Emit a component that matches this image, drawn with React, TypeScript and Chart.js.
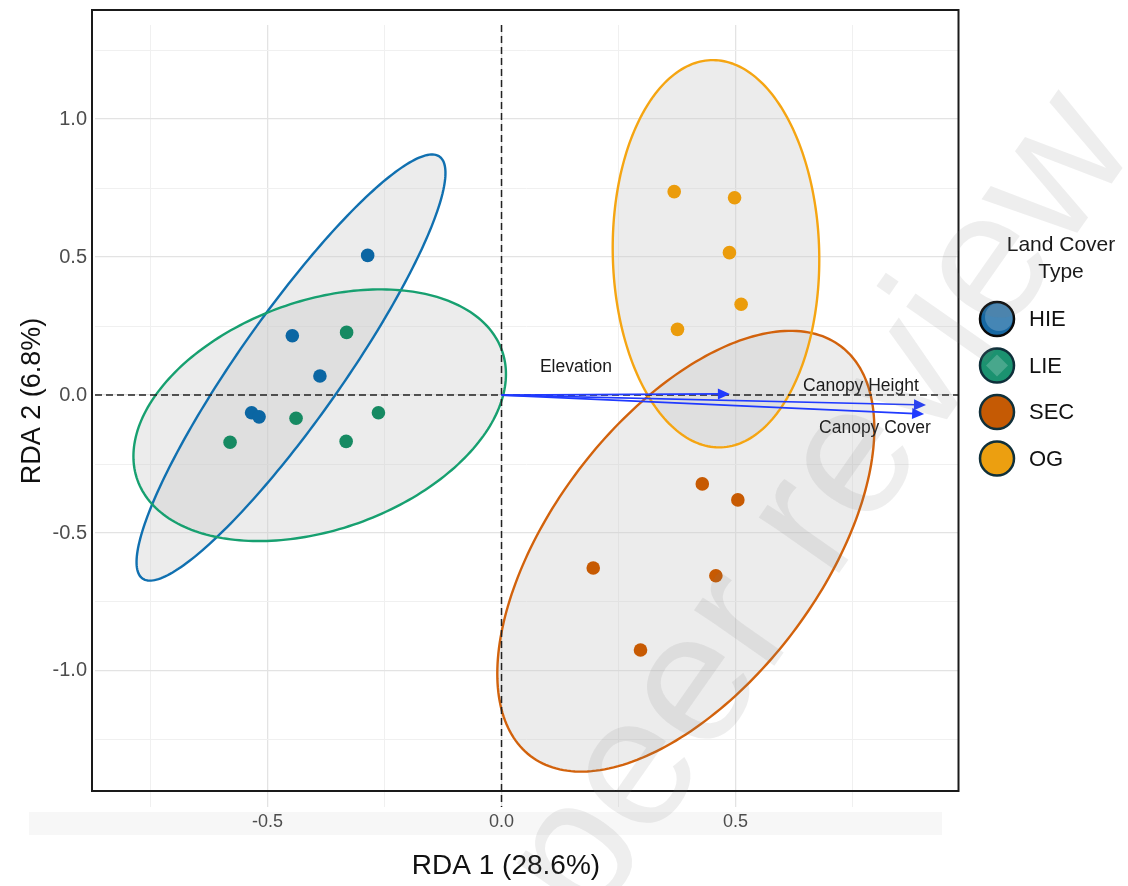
import React, { useEffect, useRef } from 'react';
import { Chart, registerables } from 'chart.js';

Chart.register(...registerables);

const FONT = "'Liberation Sans', Arial, Helvetica, sans-serif";

// Groups (land cover types)
const groups = ['HIE', 'LIE', 'SEC', 'OG'];
const pointColors = ['#0b66a3', '#168a62', '#c75a02', '#eb9c0c'];
const ellipseColors = ['#1070b0', '#17a070', '#d2620c', '#f5a512'];
const legendFill = ['#1768a3', '#1b9270', '#c55a04', '#ec9f10'];
const legendBorder = ['#0a0a0a', '#0f2f3a', '#10303a', '#10303a'];

// Site scores (RDA1, RDA2)
const hieX = [-0.286, -0.447, -0.388, -0.534, -0.518];
const hieY = [0.506, 0.215, 0.069, -0.064, -0.079];
const lieX = [-0.331, -0.439, -0.58, -0.332, -0.263];
const lieY = [0.227, -0.084, -0.171, -0.168, -0.064];
const secX = [0.429, 0.505, 0.196, 0.458, 0.297];
const secY = [-0.322, -0.38, -0.627, -0.655, -0.924];
const ogX = [0.369, 0.498, 0.487, 0.512, 0.376];
const ogY = [0.737, 0.715, 0.516, 0.329, 0.238];

// Confidence ellipses: centre and two conjugate semi-axis vectors (data units), order HIE, LIE, SEC, OG
const ellipseCX = [-0.4498, -0.3885, 0.3938, 0.4583];
const ellipseCY = [0.0996, -0.0732, -0.566, 0.512];
const ellipseUX = [0.3173, 0.398, 0.4028, 0.2207];
const ellipseUY = [0.7645, 0.149, 0.4438, -0.021];
const ellipseVX = [0.0908, 0, 0, 0];
const ellipseVY = [-0.1085, -0.431, -0.6641, -0.7014];

// Environmental vectors
const vectorNames = ['Elevation', 'Canopy Height', 'Canopy Cover'];
const vectorX = [0.488, 0.907, 0.903];
const vectorY = [0.004, -0.036, -0.069];
const vectorLabelX = [0.159, 0.768, 0.798];
const vectorLabelY = [0.101, 0.033, -0.12];

// Axes
const xMin = -0.8686;
const xMax = 0.9754;
const yMin = -1.493;
const yMax = 1.341;
const xGridValues = [-0.75, -0.5, -0.25, 0, 0.25, 0.5, 0.75];
const yGridValues = [-1.25, -1, -0.75, -0.5, -0.25, 0, 0.25, 0.5, 0.75, 1, 1.25];
const xTickValues = [-0.5, 0, 0.5];
const yTickValues = [-1, -0.5, 0, 0.5, 1];
const xTitle = 'RDA 1 (28.6%)';
const yTitle = 'RDA 2 (6.8%)';
const legendTitle = ['Land Cover', 'Type'];
const watermark = 'peer review';

const near = (a: number, b: number) => Math.abs(a - b) < 1e-6;
const isMajor = (v: number) => near(v * 2, Math.round(v * 2));

function ellipsePath(ctx: any, xs: any, ys: any, g: number) {
  ctx.beginPath();
  const n = 240;
  for (let k = 0; k <= n; k++) {
    const t = (k / n) * Math.PI * 2;
    const dx = ellipseCX[g] + Math.cos(t) * ellipseUX[g] + Math.sin(t) * ellipseVX[g];
    const dy = ellipseCY[g] + Math.cos(t) * ellipseUY[g] + Math.sin(t) * ellipseVY[g];
    const px = xs.getPixelForValue(dx);
    const py = ys.getPixelForValue(dy);
    if (k === 0) ctx.moveTo(px, py);
    else ctx.lineTo(px, py);
  }
  ctx.closePath();
}

const decorPlugin = {
  id: 'rdaDecor',
  beforeDraw(chart: any) {
    const ctx = chart.ctx;
    ctx.save();
    ctx.fillStyle = '#f7f7f7';
    ctx.fillRect(29, 812, 913, 23);
    ctx.restore();
  },
  beforeDatasetsDraw(chart: any) {
    const { ctx, chartArea } = chart;
    const xs = chart.scales.x;
    const ys = chart.scales.y;
    ctx.save();
    for (let g = 0; g < groups.length; g++) {
      ellipsePath(ctx, xs, ys, g);
      ctx.fillStyle = 'rgba(200,200,200,0.35)';
      ctx.fill();
    }
    for (let g = 0; g < groups.length; g++) {
      ellipsePath(ctx, xs, ys, g);
      ctx.lineWidth = 2.4;
      ctx.strokeStyle = ellipseColors[g];
      ctx.stroke();
    }
    // reference dashed lines
    ctx.setLineDash([7, 4]);
    ctx.lineWidth = 1.5;
    ctx.strokeStyle = '#222';
    const x0 = xs.getPixelForValue(0);
    const y0 = ys.getPixelForValue(0);
    ctx.beginPath();
    ctx.moveTo(x0, chartArea.top);
    ctx.lineTo(x0, chartArea.bottom);
    ctx.moveTo(chartArea.left, y0);
    ctx.lineTo(chartArea.right, y0);
    ctx.stroke();
    ctx.restore();
  },
  afterDatasetsDraw(chart: any) {
    const { ctx } = chart;
    const xs = chart.scales.x;
    const ys = chart.scales.y;
    ctx.save();
    const col = 'rgb(32,58,255)';
    const ox = xs.getPixelForValue(0);
    const oy = ys.getPixelForValue(0);
    for (let i = 0; i < vectorNames.length; i++) {
      const tx = xs.getPixelForValue(vectorX[i]);
      const ty = ys.getPixelForValue(vectorY[i]);
      const ang = Math.atan2(ty - oy, tx - ox);
      const hl = 12;
      const hw = 5.5;
      ctx.strokeStyle = col;
      ctx.lineWidth = 1.7;
      ctx.beginPath();
      ctx.moveTo(ox, oy);
      ctx.lineTo(tx - Math.cos(ang) * hl * 0.8, ty - Math.sin(ang) * hl * 0.8);
      ctx.stroke();
      ctx.fillStyle = col;
      ctx.beginPath();
      ctx.moveTo(tx, ty);
      ctx.lineTo(tx - Math.cos(ang) * hl - Math.sin(ang) * hw, ty - Math.sin(ang) * hl + Math.cos(ang) * hw);
      ctx.lineTo(tx - Math.cos(ang) * hl + Math.sin(ang) * hw, ty - Math.sin(ang) * hl - Math.cos(ang) * hw);
      ctx.closePath();
      ctx.fill();
    }
    ctx.fillStyle = '#1a1a1a';
    ctx.font = `17.5px ${FONT}`;
    ctx.textAlign = 'center';
    ctx.textBaseline = 'middle';
    for (let i = 0; i < vectorNames.length; i++) {
      ctx.fillText(vectorNames[i], xs.getPixelForValue(vectorLabelX[i]), ys.getPixelForValue(vectorLabelY[i]));
    }
    ctx.restore();
  },
  afterDraw(chart: any) {
    const { ctx } = chart;
    ctx.save();
    // panel border
    ctx.strokeStyle = '#1a1a1a';
    ctx.lineWidth = 2;
    ctx.strokeRect(92, 10, 866.5, 781);
    // axis titles
    ctx.fillStyle = '#111';
    ctx.textAlign = 'center';
    ctx.textBaseline = 'middle';
    ctx.font = `28px ${FONT}`;
    ctx.fillText(xTitle, 506, 866);
    ctx.save();
    ctx.translate(33, 401);
    ctx.rotate(-Math.PI / 2);
    ctx.font = `27px ${FONT}`;
    ctx.fillText(yTitle, 0, 0);
    ctx.restore();
    // legend
    ctx.font = `21px ${FONT}`;
    ctx.fillStyle = '#1a1a1a';
    ctx.fillText(legendTitle[0], 1061, 245);
    ctx.fillText(legendTitle[1], 1061, 272);
    for (let i = 0; i < groups.length; i++) {
      const cy = 319 + i * 46.5;
      const cx = 997;
      ctx.beginPath();
      ctx.arc(cx, cy, 17, 0, Math.PI * 2);
      ctx.fillStyle = legendFill[i];
      ctx.fill();
      if (i === 0) {
        ctx.save();
        ctx.beginPath();
        ctx.arc(cx, cy, 17, 0, Math.PI * 2);
        ctx.clip();
        ctx.beginPath();
        ctx.arc(cx + 2, cy - 2, 14, 0, Math.PI * 2);
        ctx.fillStyle = 'rgba(255,255,255,0.2)';
        ctx.fill();
        ctx.restore();
      }
      if (i === 1) {
        ctx.beginPath();
        ctx.moveTo(cx, cy - 11);
        ctx.lineTo(cx + 11, cy);
        ctx.lineTo(cx, cy + 11);
        ctx.lineTo(cx - 11, cy);
        ctx.closePath();
        ctx.fillStyle = 'rgba(255,255,255,0.2)';
        ctx.fill();
      }
      ctx.beginPath();
      ctx.arc(cx, cy, 17, 0, Math.PI * 2);
      ctx.lineWidth = 2.5;
      ctx.strokeStyle = legendBorder[i];
      ctx.stroke();
      ctx.fillStyle = '#111';
      ctx.textAlign = 'left';
      ctx.font = `22px ${FONT}`;
      ctx.fillText(groups[i], 1029, cy + 1);
      ctx.textAlign = 'center';
    }
    // watermark
    ctx.save();
    ctx.translate(590, 929);
    ctx.rotate((-55 * Math.PI) / 180);
    ctx.font = `185px ${FONT}`;
    ctx.textAlign = 'left';
    ctx.textBaseline = 'alphabetic';
    ctx.fillStyle = 'rgba(120,120,120,0.13)';
    ctx.fillText(watermark, 0, 0);
    ctx.restore();
    ctx.restore();
  },
};

export default function App() {
  const canvasRef = useRef<HTMLCanvasElement | null>(null);

  useEffect(() => {
    const canvas = canvasRef.current;
    if (!canvas) return;
    const mk = (xs: number[], ys: number[]) => xs.map((v, i) => ({ x: v, y: ys[i] }));
    const seriesX = [hieX, lieX, secX, ogX];
    const seriesY = [hieY, lieY, secY, ogY];
    const chart = new Chart(canvas, {
      type: 'scatter',
      data: {
        datasets: groups.map((g, i) => ({
          label: g,
          data: mk(seriesX[i], seriesY[i]),
          pointRadius: 6.8,
          pointBackgroundColor: pointColors[i],
          pointBorderWidth: 0,
          borderWidth: 0,
          showLine: false,
        })),
      },
      options: {
        responsive: false,
        animation: false,
        devicePixelRatio: 1,
        events: [],
        layout: { padding: { top: 25, right: 170, left: 0, bottom: 0 } },
        plugins: {
          legend: { display: false },
          tooltip: { enabled: false },
        },
        scales: {
          x: {
            type: 'linear',
            min: xMin,
            max: xMax,
            afterBuildTicks: (scale: any) => {
              scale.ticks = xGridValues.map((v) => ({ value: v }));
            },
            afterFit: (scale: any) => {
              scale.height = 79;
            },
            border: { display: false },
            grid: {
              drawTicks: false,
              color: (c: any) => (isMajor(c.tick.value) ? '#e3e3e3' : '#f0f0f0'),
              lineWidth: (c: any) => (isMajor(c.tick.value) ? 1.3 : 1),
            },
            ticks: {
              autoSkip: false,
              maxRotation: 0,
              padding: 4,
              color: '#4d4d4d',
              font: { family: FONT, size: 18 },
              callback: (v: any) => (xTickValues.some((t) => near(t, v)) ? Number(v).toFixed(1) : ''),
            },
          },
          y: {
            type: 'linear',
            min: yMin,
            max: yMax,
            afterBuildTicks: (scale: any) => {
              scale.ticks = yGridValues.map((v) => ({ value: v }));
            },
            afterFit: (scale: any) => {
              scale.width = 95;
            },
            border: { display: false },
            grid: {
              drawTicks: false,
              color: (c: any) => (isMajor(c.tick.value) ? '#e3e3e3' : '#f0f0f0'),
              lineWidth: (c: any) => (isMajor(c.tick.value) ? 1.3 : 1),
            },
            ticks: {
              autoSkip: false,
              padding: 8,
              color: '#4d4d4d',
              font: { family: FONT, size: 20 },
              callback: (v: any) => (yTickValues.some((t) => near(t, v)) ? Number(v).toFixed(1) : ''),
            },
          },
        },
      },
      plugins: [decorPlugin],
    } as any);
    return () => chart.destroy();
  }, []);

  return (
    <div style={{ position: 'absolute', left: 0, top: 0, width: 1128, height: 886, background: '#fff' }}>
      <canvas ref={canvasRef} width={1128} height={886} style={{ display: 'block' }} />
    </div>
  );
}
